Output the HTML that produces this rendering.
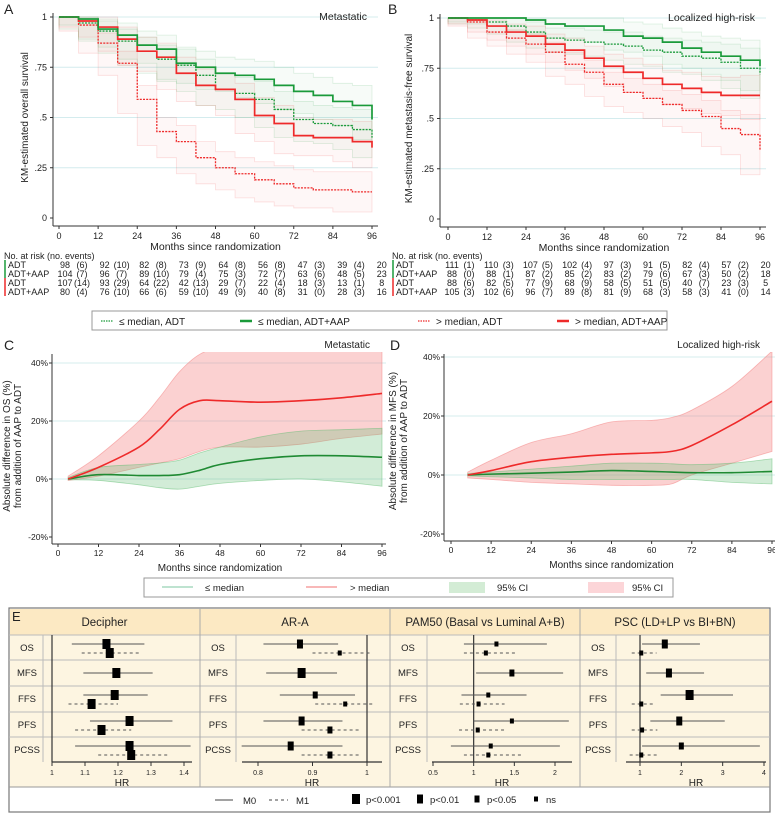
<!DOCTYPE html>
<html><head><meta charset="utf-8"><style>
html,body{margin:0;padding:0;background:#fff;}
svg{display:block;font-family:"Liberation Sans",sans-serif;}
.narrow{font-family:"Liberation Sans Narrow","Liberation Sans",sans-serif;}
</style></head><body>
<svg id="fig" width="775" height="815" viewBox="0 0 775 815" xmlns="http://www.w3.org/2000/svg"></svg>
<script>
// ---------- DATA ----------
const kmTimes = [0,6,12,18,24,30,36,42,48,54,60,66,72,78,84,90,96];
const aLoAdt   = [1,0.97,0.93,0.88,0.83,0.79,0.76,0.71,0.64,0.62,0.59,0.54,0.49,0.47,0.46,0.44,0.40];
const aLoAap   = [1,0.99,0.94,0.91,0.86,0.84,0.77,0.75,0.72,0.71,0.69,0.66,0.63,0.61,0.58,0.56,0.49];
const aHiAdt   = [1,0.96,0.87,0.77,0.59,0.43,0.38,0.30,0.25,0.22,0.19,0.17,0.15,0.14,0.14,0.13,0.13];
const aHiAap   = [1,0.98,0.95,0.89,0.83,0.80,0.72,0.66,0.64,0.59,0.51,0.47,0.41,0.40,0.40,0.38,0.35];
const aCiHalf  = [0,0.03,0.05,0.06,0.07,0.07,0.08,0.08,0.08,0.08,0.09,0.09,0.09,0.09,0.09,0.10,0.10];
const bLoAdt   = [1,0.99,0.98,0.96,0.93,0.90,0.89,0.88,0.87,0.86,0.84,0.83,0.81,0.80,0.78,0.75,0.72];
const bLoAap   = [1,1,1,1,0.99,0.97,0.96,0.96,0.94,0.91,0.90,0.88,0.85,0.83,0.81,0.79,0.76];
const bHiAdt   = [1,0.98,0.93,0.90,0.87,0.83,0.77,0.73,0.67,0.63,0.60,0.57,0.54,0.51,0.45,0.42,0.34];
const bHiAap   = [1,0.99,0.96,0.93,0.91,0.87,0.84,0.80,0.76,0.73,0.70,0.67,0.65,0.63,0.615,0.615,0.615];
const bCiHalf  = [0,0.02,0.03,0.04,0.05,0.05,0.06,0.06,0.06,0.07,0.07,0.07,0.08,0.08,0.09,0.10,0.12];
const riskMonths = [0,12,24,36,48,60,72,84,96];
const riskLabels = ["ADT","ADT+AAP","ADT","ADT+AAP"];
const leftCounts = [[98,92,82,73,64,56,47,39,20],[104,96,89,79,75,72,63,48,23],[107,93,64,42,29,22,18,13,8],[80,76,66,59,49,40,31,28,16]];
const leftEvents = [[6,10,8,9,8,8,3,4],[7,7,10,4,3,7,6,5],[14,29,22,13,7,4,3,1],[4,10,6,10,9,8,0,3]];
const rightCounts = [[111,110,107,102,97,91,82,57,20],[88,88,87,85,83,79,67,50,18],[88,82,77,68,58,51,40,23,5],[105,102,96,89,81,68,58,41,14]];
const rightEvents = [[1,3,5,4,3,5,4,2],[0,1,2,2,2,6,3,2],[6,5,9,9,5,5,7,3],[3,6,7,8,9,3,3,0]];
const cMonths = [3,12,24,30,36,42,48,60,72,84,96];
const cRed    = [0,4,11,17,24,27,27,26.5,27,28,29.5];
const cRedHi  = [1,8,20,28,37,43,45,45,44.5,44,44];
const cRedLo  = [-0.5,1,4,5.5,7,9.5,11,11,12,14,15.5];
const cGreen  = [0,1.5,1.2,1.2,1.5,3,5,7,8,8,7.5];
const cGreenHi= [0.5,4,5,5.5,6.5,9,11,14.5,16.5,17,17.5];
const cGreenLo= [-0.3,-0.5,-2,-3,-3.5,-2.5,-1.5,-0.5,0,-1,-2.5];
const dMonths = [5,12,24,36,48,60,66,72,84,96];
const dRed    = [0,1.5,4.5,6,7,7.5,8,10,17,25];
const dRedHi  = [1,5,11,14,18,18.5,19.5,22,30,42];
const dRedLo  = [-1,-1.5,-2.5,-3,-3.5,-3.5,-3,0,4,8];
const dGreen  = [0,0.3,0.6,1,1.5,1.2,1,0.8,0.8,1.2];
const dGreenHi= [0.5,1,2,3,4,4,3.8,3.5,4,5.5];
const dGreenLo= [-0.3,-0.6,-1,-1.5,-1.5,-1.5,-1.5,-1.5,-2.5,-3];
const endpoints = ["OS","MFS","FFS","PFS","PCSS"];
const decM0 = [[1.165,1.06,1.28,0],[1.195,1.095,1.305,0],[1.19,1.095,1.29,0],[1.235,1.115,1.365,0],[1.235,1.07,1.42,0]];
const decM1 = [[1.175,1.09,1.265,0],null,[1.12,1.05,1.20,0],[1.15,1.07,1.24,0],[1.24,1.14,1.35,0]];
const araM0 = [[0.877,0.81,0.947,1],[0.88,0.815,0.945,0],[0.905,0.84,0.978,2],[0.88,0.81,0.955,1],[0.86,0.77,0.955,1]];
const araM1 = [[0.95,0.90,1.005,3],null,[0.96,0.905,1.015,3],[0.932,0.88,0.985,2],[0.932,0.88,0.99,2]];
const pamM0 = [[1.28,0.88,1.9,3],[1.47,1.03,2.1,2],[1.18,0.85,1.65,3],[1.47,1.0,2.17,3],[1.21,0.72,2.06,3]];
const pamM1 = [[1.15,0.88,1.53,3],null,[1.06,0.83,1.38,3],[1.05,0.82,1.38,3],[1.18,0.88,1.6,3]];
const pscM0 = [[1.6,1.05,2.45,1],[1.7,1.15,2.55,1],[2.2,1.5,3.25,0],[1.95,1.25,3.05,1],[2.0,1.05,3.9,2]];
const pscM1 = [[1.03,0.8,1.4,3],null,[1.03,0.8,1.35,3],[1.05,0.8,1.42,3],[1.03,0.75,1.42,3]];
const decTicks = [1,1.1,1.2,1.3,1.4];
const decTickLabels = ["1","1.1","1.2","1.3","1.4"];
const araTicks = [0.8,0.9,1];
const araTickLabels = ["0.8","0.9","1"];
const pamTicks = [0.5,1,1.5,2];
const pamTickLabels = ["0.5","1","1.5","2"];
const pscTicks = [1,2,3,4];
const pscTickLabels = ["1","2","3","4"];
const kmTicksY = [0,0.25,0.5,0.75,1];
const kmTickYLabels = ["0",".25",".5",".75","1"];
const monthTicks = [0,12,24,36,48,60,72,84,96];
const pctTicks = [-20,0,20,40];
const pctTickLabels = ["-20%","0%","20%","40%"];

// ---------- HELPERS ----------
const NS="http://www.w3.org/2000/svg";
const svg=document.getElementById('fig');
function mk(tag,attrs,parent){const e=document.createElementNS(NS,tag);for(const k in attrs)e.setAttribute(k,attrs[k]);(parent||svg).appendChild(e);return e;}
function txt(x,y,s,size,anchor,parent,fill){const t=mk('text',{x:x,y:y,'font-size':size,'text-anchor':anchor||'start',fill:fill||'#222'},parent);t.textContent=s;return t;}
function lin(a,b,c,d){return v=>c+(v-a)*(d-c)/(b-a);}
const GREEN='#1a9a3a', RED='#ee2a2a', GRID='#d4ecee';
function stepPath(xs,ys,t,v){let d='M'+xs(t[0])+','+ys(v[0]);for(let i=1;i<t.length;i++){d+='H'+xs(t[i])+'V'+ys(v[i]);}return d;}
function smooth(pts){let d='M'+pts[0][0]+','+pts[0][1];for(let i=0;i<pts.length-1;i++){const p0=pts[Math.max(0,i-1)],p1=pts[i],p2=pts[i+1],p3=pts[Math.min(pts.length-1,i+2)];const c1=[p1[0]+(p2[0]-p0[0])/6,p1[1]+(p2[1]-p0[1])/6],c2=[p2[0]-(p3[0]-p1[0])/6,p2[1]-(p3[1]-p1[1])/6];d+='C'+c1[0]+','+c1[1]+' '+c2[0]+','+c2[1]+' '+p2[0]+','+p2[1];}return d;}

// ---------- KM PANELS ----------
function kmPanel(name,letter,lx,x0,x1,y1,y0,axisX,title,ytitle,curves,ci){
  const g=mk('g',{});
  
  
  const xs=lin(0,96,x0,x1), ys=lin(0,1,y0,y1);
  txt(lx,14,letter,14,'start',g);
  kmTicksY.forEach((v,i)=>{
    if(v>0){const gl=mk('line',{x1:axisX,x2:x1+6,y1:ys(v),y2:ys(v),stroke:GRID,'stroke-width':1},g);
    
    }
    mk('line',{x1:axisX-3,x2:axisX,y1:ys(v),y2:ys(v),stroke:'#333'},g);
    txt(axisX-6,ys(v)+3,kmTickYLabels[i],9,'end',g);
  });
  curves.forEach(c=>{
    const up=c.v.map((v,i)=>Math.min(1,v+ci[i])), lo=c.v.map((v,i)=>Math.max(0,v-ci[i]));
    let d=stepPath(xs,ys,kmTimes,up);
    let back='';for(let i=kmTimes.length-1;i>0;i--){back+='L'+xs(kmTimes[i])+','+ys(lo[i])+'L'+xs(kmTimes[i-1])+','+ys(lo[i]);}
    const band=mk('path',{d:d+back+'Z',fill:c.col,'fill-opacity':0.035,stroke:c.col,'stroke-opacity':0.15,'stroke-width':0.8},g);
    
    
  });
  curves.forEach(c=>{
    const p=mk('path',{d:stepPath(xs,ys,kmTimes,c.v),fill:'none',stroke:c.col,'stroke-width':c.dash?1.3:1.7,'stroke-dasharray':c.dash?'2,1.2':'none'},g);
    
    
  });
  mk('line',{x1:axisX,x2:axisX,y1:y1-4,y2:y0+8,stroke:'#333'},g);
  mk('line',{x1:axisX,x2:x1+6,y1:y0+8,y2:y0+8,stroke:'#333'},g);
  monthTicks.forEach(m=>{mk('line',{x1:xs(m),x2:xs(m),y1:y0+8,y2:y0+11,stroke:'#333'},g);txt(xs(m),y0+21,String(m),9,'middle',g);});
  const xt=txt((x0+x1)/2,y0+32,'Months since randomization',10.5,'middle',g);
  
  
  const tt=txt(x1-5,y1+3,title,10.5,'end',g);
  
  
  const yt=txt(0,0,ytitle,10,'middle',g);
  yt.setAttribute('transform','translate('+(lx+24)+','+((y0+y1)/2)+') rotate(-90)');
  
  
}
kmPanel('panel-a','A',4,59,372,17,218,53,'Metastatic','KM-estimated overall survival',[
 {v:aLoAdt,col:GREEN,dash:true,name:'curve-le-median-adt'},{v:aHiAdt,col:RED,dash:true,name:'curve-gt-median-adt'},
 {v:aHiAap,col:RED,dash:false,name:'curve-gt-median-adt-aap'},{v:aLoAap,col:GREEN,dash:false,name:'curve-le-median-adt-aap'}],aCiHalf);
kmPanel('panel-b','B',388,448,760,18,219,440,'Localized high-risk','KM-estimated metastasis-free survival',[
 {v:bLoAdt,col:GREEN,dash:true,name:'curve-le-median-adt'},{v:bHiAdt,col:RED,dash:true,name:'curve-gt-median-adt'},
 {v:bHiAap,col:RED,dash:false,name:'curve-gt-median-adt-aap'},{v:bLoAap,col:GREEN,dash:false,name:'curve-le-median-adt-aap'}],bCiHalf);

// ---------- RISK TABLES ----------
function riskTable(name,lx,cx0,dx,counts,events){
  const g=mk('g',{'class':'narrow'});
  
  
  txt(lx,259,'No. at risk (no. events)',9,'start',g);
  const rowY=[268,277,286,295];
  counts.forEach((row,r)=>{
    mk('line',{x1:lx+1,x2:lx+1,y1:rowY[r]-8,y2:rowY[r]+1,stroke:r<2?GREEN:RED,'stroke-width':1.5},g);
    txt(lx+4,rowY[r],riskLabels[r],9,'start',g);
    row.forEach((v,i)=>{txt(cx0+dx*i,rowY[r],String(v),9,'middle',g);
      if(i<8)txt(cx0+dx*i+17,rowY[r],'('+events[r][i]+')',9,'middle',g);});
  });
}
riskTable('risk-table-metastatic',4,65,39.6,leftCounts,leftEvents);
riskTable('risk-table-localized',392,452,39.2,rightCounts,rightEvents);

// ---------- LEGEND 1 ----------
(function(){
  const g=mk('g',{});
  
  
  mk('rect',{x:92,y:311,width:575,height:19,fill:'#fff',stroke:'#999'},g);
  const items=[[101,GREEN,true,'≤ median, ADT'],[240,GREEN,false,'≤ median, ADT+AAP'],[418,RED,true,'> median, ADT'],[557,RED,false,'> median, ADT+AAP']];
  items.forEach(it=>{
    const e=mk('g',{},g);
    
    
    mk('line',{x1:it[0],x2:it[0]+12,y1:321,y2:321,stroke:it[1],'stroke-width':it[2]?1.3:2.5,'stroke-dasharray':it[2]?'1.5,1':'none'},e);
    txt(it[0]+18,325,it[3],10,'start',e);
  });
})();

// ---------- C / D ----------
function diffPanel(name,letter,lx,x0,x1,yTop40,y0,axisX,axisY,title,ytitle,months,red,redHi,redLo,green,greenHi,greenLo){
  const g=mk('g',{});
  
  
  const xs=lin(0,96,x0,x1), ys=lin(0,40,y0,yTop40);
  txt(lx,350,letter,14,'start',g);
  const clipId='clip'+letter;
  const cp=mk('clipPath',{id:clipId},g);mk('rect',{x:axisX,y:352,width:x1-axisX+4,height:axisY-352},cp);
  pctTicks.forEach((v,i)=>{
    if(v>=0){mk('line',{x1:axisX,x2:x1+4,y1:ys(v),y2:ys(v),stroke:GRID},g);}
    mk('line',{x1:axisX-3,x2:axisX,y1:ys(v),y2:ys(v),stroke:'#333'},g);
    txt(axisX-4,ys(v)+3,pctTickLabels[i],8.5,'end',g);
  });
  const cg=mk('g',{'clip-path':'url(#'+clipId+')'},g);
  function band(hi,lo,col,op,nm){
    const up=months.map((m,i)=>[xs(m),ys(hi[i])]), dn=months.map((m,i)=>[xs(m),ys(lo[i])]).reverse();
    const d=smooth(up)+'L'+dn[0][0]+','+dn[0][1]+smooth(dn).slice(1).replace(/^[^C]*/,'')+'Z';
    const p=mk('path',{d:d,fill:col,'fill-opacity':op,stroke:col,'stroke-opacity':0.5,'stroke-width':0.8},cg);
    
    
  }
  band(redHi,redLo,'#f47a7a',0.35,'ci-band-gt-median');
  band(greenHi,greenLo,'#5dbb70',0.28,'ci-band-le-median');
  const gl=mk('path',{d:smooth(months.map((m,i)=>[xs(m),ys(green[i])])),fill:'none',stroke:'#1f8a33','stroke-width':1.6},cg);
  
  
  const rl=mk('path',{d:smooth(months.map((m,i)=>[xs(m),ys(red[i])])),fill:'none',stroke:RED,'stroke-width':1.6},cg);
  
  
  mk('line',{x1:axisX,x2:axisX,y1:354,y2:axisY,stroke:'#333'},g);
  mk('line',{x1:axisX,x2:x1+4,y1:axisY,y2:axisY,stroke:'#333'},g);
  monthTicks.forEach(m=>{mk('line',{x1:xs(m),x2:xs(m),y1:axisY,y2:axisY+3,stroke:'#333'},g);txt(xs(m),axisY+12,String(m),8.5,'middle',g);});
  const xt=txt((x0+x1)/2,axisY+27,'Months since randomization',10,'middle',g);
  
  
  const tt=txt(x1-12,348,title,10,'end',g);
  
  
  const yt=mk('text',{'font-size':10,'text-anchor':'middle',fill:'#222',transform:'translate('+(lx+6)+','+((y0+yTop40)/2+25)+') rotate(-90)'},g);
  
  
  const t1=mk('tspan',{x:0,dy:0},yt);t1.textContent=ytitle;
  const t2=mk('tspan',{x:0,dy:11},yt);t2.textContent='from addition of AAP to ADT';
}
diffPanel('panel-c','C',4,58,382,363,479,52,544,'Metastatic','Absolute difference in OS (%)',cMonths,cRed,cRedHi,cRedLo,cGreen,cGreenHi,cGreenLo);
diffPanel('panel-d','D',390,451,772,357,475,444,541,'Localized high-risk','Absolute difference in MFS (%)',dMonths,dRed,dRedHi,dRedLo,dGreen,dGreenHi,dGreenLo);

// ---------- LEGEND 2 ----------
(function(){
  const g=mk('g',{});
  
  
  mk('rect',{x:144,y:578,width:529,height:19,fill:'#fff',stroke:'#999'},g);
  mk('line',{x1:162,x2:193,y1:587,y2:587,stroke:'#7cc7a0'},g);txt(205,591,'≤ median',9.5,'start',g);
  mk('line',{x1:306,x2:337,y1:587,y2:587,stroke:'#f07070'},g);txt(350,591,'> median',9.5,'start',g);
  mk('rect',{x:449,y:582,width:36,height:11,fill:'#d3ecd5'},g);txt(497,591,'95% CI',9.5,'start',g);
  mk('rect',{x:588,y:582,width:36,height:11,fill:'#fcd5d8'},g);txt(632,591,'95% CI',9.5,'start',g);
})();

// ---------- PANEL E ----------
(function(){
  const g=mk('g',{});
  
  
  mk('rect',{x:9,y:608,width:761,height:204,fill:'#fff',stroke:'#777','stroke-width':1.2},g);
  mk('rect',{x:10,y:609,width:759,height:26,fill:'#fce9c3'},g);
  mk('rect',{x:10,y:635,width:759,height:152,fill:'#fdf5e1'},g);
  mk('line',{x1:9,x2:770,y1:787,y2:787,stroke:'#999'},g);
  const rowTops=[635,660,686,712,737];
  rowTops.forEach(y=>mk('line',{x1:9,x2:770,y1:y,y2:y,stroke:'#bbb'},g));
  txt(12,621,'E',13,'start',g);
  const cols=[
   {name:'decipher',title:'Decipher',x0:9,x1:200,lab:27,sub:43,ref:1,tickPx:lin(1,1.4,52,184),ticks:decTicks,tl:decTickLabels,ax0:52,ax1:192,m0:decM0,m1:decM1},
   {name:'ar-a',title:'AR-A',x0:200,x1:390,lab:218,sub:236,ref:1,tickPx:lin(0.8,1,258,367),ticks:araTicks,tl:araTickLabels,ax0:242,ax1:382,m0:araM0,m1:araM1},
   {name:'pam50',title:'PAM50 (Basal vs Luminal A+B)',x0:390,x1:580,lab:408,sub:427,ref:1,tickPx:lin(0.5,2,433,555),ticks:pamTicks,tl:pamTickLabels,ax0:432,ax1:572,m0:pamM0,m1:pamM1},
   {name:'psc',title:'PSC (LD+LP vs BI+BN)',x0:580,x1:770,lab:598,sub:616,ref:1,tickPx:lin(1,4,640,764),ticks:pscTicks,tl:pscTickLabels,ax0:626,ax1:766,m0:pscM0,m1:pscM1}];
  const sizes=[[8,10],[6,9],[5,7],[4,5]];
  cols.forEach((c,ci)=>{
    const cg=mk('g',{},g);
    
    
    if(ci>0)mk('line',{x1:c.x0,x2:c.x0,y1:608,y2:787,stroke:'#aaa'},cg);
    txt((c.x0+c.x1)/2,626,c.title,11.5,'middle',cg);
    mk('line',{x1:c.sub,x2:c.sub,y1:635,y2:762,stroke:'#bbb'},cg);
    endpoints.forEach((e,r)=>txt(c.lab,rowTops[r]+16,e,9.5,'middle',cg));
    mk('line',{x1:c.tickPx(c.ref),x2:c.tickPx(c.ref),y1:635,y2:762,stroke:'#333','stroke-width':1.2},cg);
    mk('line',{x1:c.ax0,x2:c.ax1,y1:762,y2:762,stroke:'#333','stroke-width':1.2},cg);
    c.ticks.forEach((t,i)=>{mk('line',{x1:c.tickPx(t),x2:c.tickPx(t),y1:762,y2:766,stroke:'#333'},cg);txt(c.tickPx(t),775,c.tl[i],7,'middle',cg);});
    txt((c.ax0+c.ax1)/2,786,'HR',10,'middle',cg);
    [c.m0,c.m1].forEach((arr,mi)=>{
      arr.forEach((d,r)=>{
        if(!d)return;
        const y=rowTops[r]+(c.m1[r]?(mi==0?9:18):13);
        const l=mk('line',{x1:c.tickPx(d[1]),x2:c.tickPx(d[2]),y1:y,y2:y,stroke:'#555','stroke-width':1,'stroke-dasharray':mi?'3,3':'none'},cg);
        
        
        const s=sizes[d[3]];
        const m=mk('rect',{x:c.tickPx(d[0])-s[0]/2,y:y-s[1]/2,width:s[0],height:s[1],fill:'#000'},cg);
        
        
      });
    });
  });
  const lg=mk('g',{},g);
  
  
  mk('line',{x1:215,x2:233,y1:800,y2:800,stroke:'#444'},lg);txt(243,804,'M0',9.5,'start',lg);
  mk('line',{x1:269,x2:288,y1:800,y2:800,stroke:'#444','stroke-dasharray':'3,3'},lg);txt(296,804,'M1',9.5,'start',lg);
  [[356,'p<0.001',0],[420,'p<0.01',1],[477,'p<0.05',2],[536,'ns',3]].forEach(it=>{const s=sizes[it[2]];mk('rect',{x:it[0]-s[0]/2,y:799-s[1]/2,width:s[0],height:s[1],fill:'#000'},lg);txt(it[0]+10,803,it[1],9.5,'start',lg);});
})();
</script>
</body></html>
